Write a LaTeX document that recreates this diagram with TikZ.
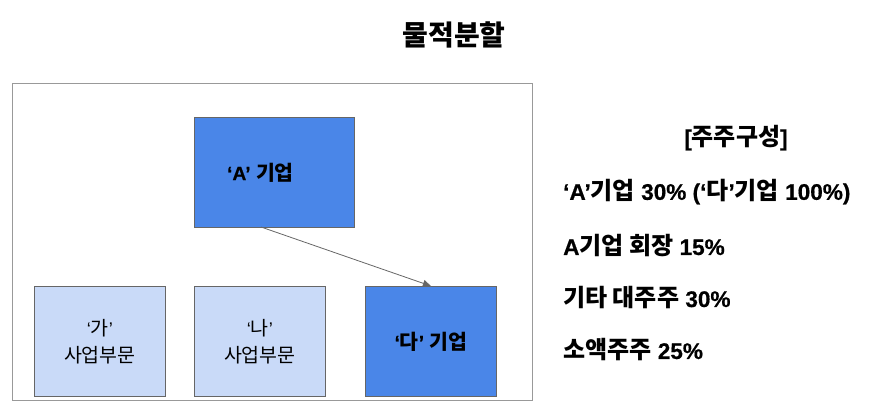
\documentclass[tikz,border=0pt]{standalone}
\usepackage{fontspec}
\setmainfont{Noto Sans CJK KR}
\newfontfamily\lat[Scale=0.94]{Liberation Sans}
\newfontfamily\latb[Scale=0.94,FakeBold=0.6]{Liberation Sans Bold}
\newcommand\la[1]{{\latb #1}}
\newcommand\lr[1]{{\lat #1}}
\usetikzlibrary{arrows.meta}
\definecolor{darkblue}{HTML}{4A86E8}
\definecolor{lightblue}{HTML}{C9DAF8}
\definecolor{edgegray}{HTML}{666666}
\definecolor{framegray}{HTML}{999999}
\tikzset{
  box/.style={draw=edgegray, line width=0.8pt, anchor=north west, inner sep=0pt},
  bigbox/.style={box, fill=darkblue, minimum width=160pt, minimum height=110pt, font=\fontsize{20.5}{22}\selectfont\bfseries},
  smallbox/.style={box, fill=lightblue, minimum width=131pt, minimum height=110pt, align=center, font=\fontsize{19.5}{27}\selectfont},
  darkbox/.style={box, fill=darkblue, minimum width=131pt, minimum height=110pt, font=\fontsize{20.5}{22}\selectfont\bfseries},
  infotext/.style={anchor=west, inner sep=0pt, font=\fontsize{24}{26}\selectfont\bfseries},
}
\begin{document}
\begin{tikzpicture}[x=1pt,y=-1pt]
\useasboundingbox (0,0) rectangle (869,415);
\node[anchor=center, font=\fontsize{28}{30}\selectfont\bfseries] (title) at (454,35) {물적분할};
\node[draw=framegray, line width=1pt, anchor=north west, minimum width=520pt, minimum height=317pt, inner sep=0pt] (frame) at (12,83) {};
\node[bigbox] (A) at (194,117) {\la{‘A’ }기업\hspace*{28pt}};
\node[smallbox] (ga) at (34,286) {\lr{‘}가\lr{’}\\사업부문};
\node[smallbox] (na) at (194,286) {\lr{‘}나\lr{’}\\사업부문};
\node[darkbox] (da) at (365,286) {\la{‘}다\la{’ }기업};
\draw[edgegray, line width=0.8pt, -{Triangle[length=8pt,width=7pt]}] (261,227) -- (da.north);
\node[anchor=center, font=\fontsize{24}{26}\selectfont\bfseries] (hdr) at (736,138) {\la{[}주주구성\la{]}};
\node[infotext] (l1) at (563,192) {\la{‘A’}기업\la{ 30\% (‘}다\la{’}기업\la{ 100\%)}};
\node[infotext] (l2) at (563,246) {\la{A}기업 회장\la{ 15\%}};
\node[infotext] (l3) at (563,298) {기타 대주주\la{ 30\%}};
\node[infotext] (l4) at (563,350) {소액주주\la{ 25\%}};
\end{tikzpicture}
\end{document}
